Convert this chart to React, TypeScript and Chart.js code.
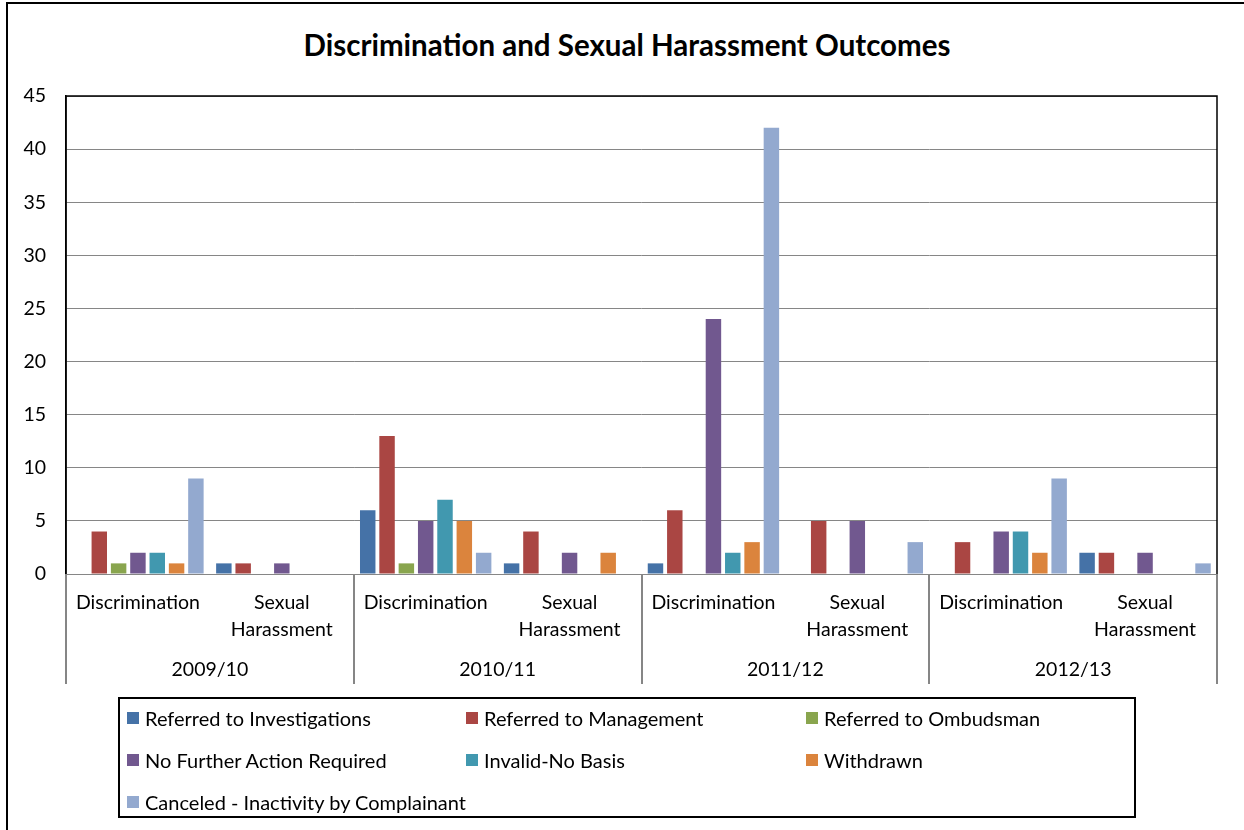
import React, { useEffect, useRef } from "react";
import { Chart, registerables } from "chart.js";

Chart.register(...registerables);

const chartTitle = "Discrimination and Sexual Harassment Outcomes";
const years = ["2009/10", "2010/11", "2011/12", "2012/13"];
const complaintTypes: (string | string[])[] = ["Discrimination", ["Sexual", "Harassment"]];

const seriesNames = [
  "Referred to Investigations",
  "Referred to Management",
  "Referred to Ombudsman",
  "No Further Action Required",
  "Invalid-No Basis",
  "Withdrawn",
  "Canceled - Inactivity by Complainant",
];
const seriesColors = ["#4572A7", "#AA4643", "#89A54E", "#71588F", "#4198AF", "#DB843D", "#93A9CF"];

// order: 09/10 Disc, 09/10 SH, 10/11 Disc, 10/11 SH, 11/12 Disc, 11/12 SH, 12/13 Disc, 12/13 SH
const referredToInvestigations = [0, 1, 6, 1, 1, 0, 0, 2];
const referredToManagement = [4, 1, 13, 4, 6, 5, 3, 2];
const referredToOmbudsman = [1, 0, 1, 0, 0, 0, 0, 0];
const noFurtherActionRequired = [2, 1, 5, 2, 24, 5, 4, 2];
const invalidNoBasis = [2, 0, 7, 0, 2, 0, 4, 0];
const withdrawn = [1, 0, 5, 2, 3, 0, 2, 0];
const canceledInactivity = [9, 0, 2, 0, 42, 3, 9, 1];

const yTickMin = 0;
const yTickMax = 45;
const yTickStep = 5;

const FONT = "Lato, 'Open Sans', sans-serif";

export default function App() {
  const canvasRef = useRef<HTMLCanvasElement | null>(null);

  useEffect(() => {
    const canvas = canvasRef.current;
    if (!canvas) return;
    const seriesValues = [
      referredToInvestigations,
      referredToManagement,
      referredToOmbudsman,
      noFurtherActionRequired,
      invalidNoBasis,
      withdrawn,
      canceledInactivity,
    ];
    const labels: (string | string[])[] = [];
    years.forEach(() => complaintTypes.forEach((t) => labels.push(t)));

    const separators = {
      id: "yearSeparators",
      afterDraw(chart: any) {
        const { ctx, chartArea } = chart;
        const x2 = chart.scales.x2;
        const step = (x2.right - x2.left) / years.length;
        ctx.save();
        ctx.strokeStyle = "#868686";
        ctx.lineWidth = 2;
        for (let i = 0; i <= years.length; i++) {
          const x = Math.round(x2.left + i * step);
          ctx.beginPath();
          ctx.moveTo(x, chartArea.bottom);
          ctx.lineTo(x, x2.bottom);
          ctx.stroke();
        }
        ctx.strokeStyle = "#000";
        ctx.lineWidth = 1.5;
        ctx.beginPath();
        ctx.moveTo(chartArea.left, chartArea.bottom);
        ctx.lineTo(chartArea.left, chartArea.top);
        ctx.lineTo(chartArea.right, chartArea.top);
        ctx.lineTo(chartArea.right, chartArea.bottom);
        ctx.stroke();
        ctx.restore();
      },
    };

    const chart = new Chart(canvas, {
      type: "bar",
      data: {
        labels,
        datasets: seriesNames.map((name, i) => ({
          label: name,
          data: seriesValues[i],
          backgroundColor: seriesColors[i],
          borderWidth: 0,
          categoryPercentage: 0.94,
          barPercentage: 0.8,
        })),
      },
      options: {
        responsive: false,
        animation: false,
        events: [],
        layout: { padding: { left: 0, right: 27, top: 96, bottom: 16 } },
        plugins: {
          legend: { display: false },
          tooltip: { enabled: false },
          title: { display: false },
        },
        scales: {
          x: {
            type: "category",
            weight: 0,
            grid: { display: false },
            border: { display: true, color: "#868686", width: 1 },
            ticks: {
              color: "#000",
              font: { family: FONT, size: 19.5, lineHeight: 1.35 },
              padding: 8,
              maxRotation: 0,
              autoSkip: false,
            },
            afterFit(scale: any) {
              scale.height = 70;
            },
          },
          x2: {
            type: "category",
            position: "bottom",
            weight: 1,
            labels: years,
            offset: true,
            grid: { display: false },
            border: { display: false },
            ticks: {
              color: "#000",
              font: { family: FONT, size: 19.5, lineHeight: 1.35 },
              padding: 5,
              maxRotation: 0,
              autoSkip: false,
            },
            afterFit(scale: any) {
              scale.height = 40;
            },
          },
          y: {
            min: yTickMin,
            max: yTickMax,
            ticks: {
              stepSize: yTickStep,
              color: "#000",
              font: { family: FONT, size: 19.5 },
              padding: 20,
            },
            grid: { color: "#868686", lineWidth: 1, drawTicks: false, tickLength: 0 },
            border: { color: "#000", width: 1.5 },
            afterFit(scale: any) {
              scale.width = 66;
            },
          },
        },
      },
      plugins: [separators],
    });
    return () => chart.destroy();
  }, []);

  return (
    <div
      style={{
        position: "fixed",
        left: 0,
        top: 0,
        width: 1244,
        height: 830,
        overflow: "hidden",
        background: "#fff",
        fontFamily: FONT,
      }}
    >
      <div
        style={{
          position: "absolute",
          left: 6,
          top: 2,
          width: 1400,
          height: 1000,
          borderLeft: "2px solid #000",
          borderTop: "2px solid #000",
        }}
      />
      <div
        style={{
          position: "absolute",
          left: 227,
          top: 26,
          width: 800,
          textAlign: "center",
          fontSize: 29.5,
          fontWeight: 700,
          lineHeight: "38px",
          color: "#000",
          whiteSpace: "nowrap",
        }}
      >
        {chartTitle}
      </div>
      <canvas
        ref={canvasRef}
        width={1244}
        height={700}
        style={{ position: "absolute", left: 0, top: 0, width: 1244, height: 700 }}
      />
      <div
        style={{
          position: "absolute",
          left: 118,
          top: 697,
          width: 1018,
          height: 121,
          boxSizing: "border-box",
          border: "2px solid #000",
        }}
      >
        <div
          style={{
            marginTop: -2,
            display: "grid",
            gridTemplateColumns: "339px 340px 320px",
            gridAutoRows: "42px",
            paddingLeft: 7,
          }}
        >
          {seriesNames.map((name, i) => (
            <div
              key={name}
              style={{ display: "flex", alignItems: "center", fontSize: 20, color: "#000", whiteSpace: "nowrap" }}
            >
              <span
                style={{
                  display: "inline-block",
                  width: 12,
                  height: 12,
                  background: seriesColors[i],
                  marginRight: 6,
                  flex: "none",
                }}
              />
              {name}
            </div>
          ))}
        </div>
      </div>
    </div>
  );
}
